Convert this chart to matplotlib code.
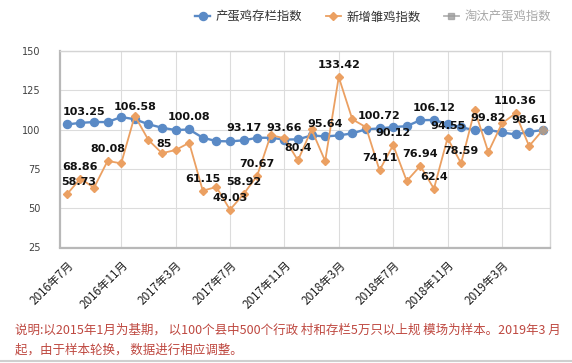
import matplotlib
matplotlib.use("Agg")
import matplotlib.pyplot as plt
from matplotlib.lines import Line2D
import numpy as np

# ---------------- data ----------------
months = [f"{y}年{m}月" for y, m in
          [(2016, m) for m in range(7, 13)] + [(2017, m) for m in range(1, 13)] +
          [(2018, m) for m in range(1, 13)] + [(2019, m) for m in range(1, 7)]]

layer_stock = [103.25, 104.3, 104.8, 104.8, 108.0, 106.58, 103.4, 101.2, 99.7, 100.08,
               94.8, 92.7, 92.5, 93.17, 94.8, 94.8, 93.66, 93.8, 96.3, 95.64,
               96.3, 97.6, 100.2, 100.72, 101.6, 102.2, 106.0, 106.12, 103.6, 101.5,
               99.6, 99.82, 98.2, 96.9, 98.61, 99.7]

chick_new = [58.73, 68.86, 63.0, 80.08, 78.5, 108.8, 93.4, 85, 87, 91.6,
             61.15, 63.5, 49.03, 58.92, 70.67, 96.5, 94.5, 80.4, 100.1, 80.0,
             133.42, 106.5, 101.6, 74.11, 90.12, 67.3, 76.94, 62.4, 94.55, 78.59,
             112.4, 85.7, 103.9, 110.36, 89.5, 99.7]

culled = [np.nan] * 35 + [99.7]

series_names = ["产蛋鸡存栏指数", "新增雏鸡指数", "淘汰产蛋鸡指数"]

tick_labels = ["2016年7月", "2016年11月", "2017年3月", "2017年7月", "2017年11月",
               "2018年3月", "2018年7月", "2018年11月", "2019年3月"]

yticks = [25, 50, 75, 100, 125, 150]

# which points carry a value label
blue_labeled = [0, 5, 9, 13, 16, 19, 23, 27, 31, 34]
orange_labeled = [0, 1, 3, 7, 10, 12, 13, 14, 17, 20, 23, 24, 26, 27, 28, 29, 33]

note = ("说明:以2015年1月为基期， 以100个县中500个行政 村和存栏5万只以上规 模场为样本。2019年3 月\n"
        "起，由于样本轮换， 数据进行相应调整。")

# ---------------- style ----------------
CJK = ["Noto Sans CJK SC", "DejaVu Sans"]
BLUE = "#5A8AC6"
ORANGE = "#EBA062"
GRAY = "#9A9A9A"
label_offsets = {("b", 0): (17, 12), ("o", 0): (12, 12), ("o", 7): (2, 9)}

fig = plt.figure(figsize=(5.72, 3.63), dpi=100)
ax = fig.add_axes([60 / 572, 1 - 247.5 / 363, (549.5 - 60) / 572, (247.5 - 51) / 363])

x = np.arange(len(months))
ax.plot(x, layer_stock, color=BLUE, lw=1.7, marker="o", ms=5.8, mec=BLUE, mfc=BLUE,
        zorder=3, label=series_names[0])
ax.plot(x, chick_new, color=ORANGE, lw=1.3, marker="D", ms=3.8, mec=ORANGE, mfc=ORANGE,
        zorder=4, label=series_names[1])
ax.plot(x, culled, color=GRAY, lw=1.3, marker="s", ms=5, mec=GRAY, mfc=GRAY, alpha=0.75,
        zorder=5, label=series_names[2])

ax.set_xlim(-0.5, len(months) - 0.5)
ax.set_ylim(25, 150)
ax.set_yticks(yticks)
ax.set_yticklabels([str(v) for v in yticks], fontsize=7, color="#404040")
tick_pos = list(range(0, len(months), 4))[:len(tick_labels)]
ax.set_xticks(tick_pos)
ax.set_xticklabels(tick_labels, rotation=45, ha="right", va="top",
                   rotation_mode="anchor", fontsize=8.4, family=CJK, color="#202020")
ax.tick_params(axis="both", length=0)
ax.tick_params(axis="y", pad=14)
ax.tick_params(axis="x", pad=8)

ax.grid(True, color="#DCDCDC", lw=0.8, zorder=0)
ax.get_xgridlines()[0].set_visible(False)
ax.set_axisbelow(True)
for side in ["top", "right"]:
    ax.spines[side].set_color("#D4D4D4")
    ax.spines[side].set_linewidth(1.0)
for side in ["left", "bottom"]:
    ax.spines[side].set_color("#B8B8B8")
    ax.spines[side].set_linewidth(1.6)


def put_labels(vals, idxs, key):
    for i in idxs:
        dx, dy = label_offsets.get((key, i), (0, 12))
        ax.annotate(f"{vals[i]:g}", (x[i], vals[i]), xytext=(dx, dy),
                    textcoords="offset pixels", ha="center", va="center",
                    fontsize=8, fontweight="bold", color="#111111", zorder=6)


put_labels(layer_stock, blue_labeled, "b")
put_labels(chick_new, orange_labeled, "o")

leg = fig.legend(loc="center", bbox_to_anchor=(373 / 572, 1 - 17 / 363), ncol=3,
                 frameon=False, prop={"family": CJK, "size": 8.9}, handlelength=1.2,
                 handletextpad=0.45, columnspacing=1.9)
for t, c in zip(leg.get_texts(), ["#333333", "#333333", "#A8A8A8"]):
    t.set_color(c)

fig.text(15 / 572, 1 - 324 / 363, note, fontsize=9, family=CJK, color="#BE4840",
         ha="left", va="top", linespacing=1.65)

fig.add_artist(Line2D([0, 1], [1 - 361 / 363] * 2, color="#CFCFCF", lw=1.5))

fig.savefig("out.png", dpi=100)
